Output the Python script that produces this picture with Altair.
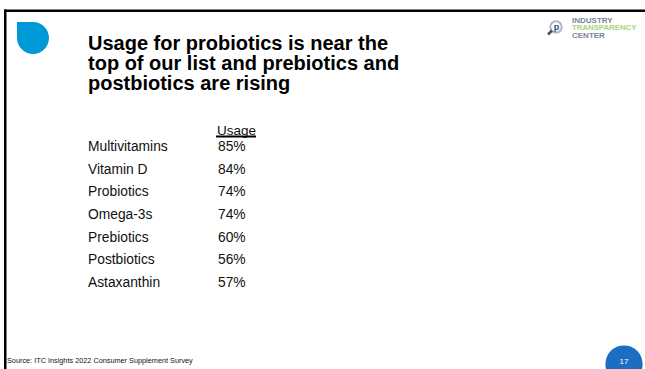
import altair as alt
import pandas as pd

# ---- data ----
items = ["Multivitamins", "Vitamin D", "Probiotics", "Omega-3s", "Prebiotics", "Postbiotics", "Astaxanthin"]
usage = [85, 84, 74, 74, 60, 56, 57]
header = "Usage"
title_lines = ["Usage for probiotics is near the",
               "top of our list and prebiotics and",
               "postbiotics are rising"]
source = "Source: ITC Insights 2022 Consumer Supplement Survey"
page = "17"
logo_lines = ["INDUSTRY", "TRANSPARENCY", "CENTER"]

df = pd.DataFrame({"item": items, "usage": usage})
one = pd.DataFrame({"k": [0]})

FONT = "Liberation Sans"

base = alt.Chart(one)

border_top = base.mark_rect(color="#000000").encode(
    x=alt.value(4), x2=alt.value(645), y=alt.value(9.5), y2=alt.value(12))
border_left = base.mark_rect(color="#000000").encode(
    x=alt.value(4), x2=alt.value(6.5), y=alt.value(9.5), y2=alt.value(369))

drop = base.mark_rect(color="#0099D8", cornerRadiusTopRight=16,
                      cornerRadiusBottomLeft=16, cornerRadiusBottomRight=16).encode(
    x=alt.value(17), x2=alt.value(49), y=alt.value(22), y2=alt.value(54))

title_layers = [
    base.mark_text(text=t, font=FONT, fontSize=20, fontWeight="bold",
                   align="left", baseline="alphabetic", color="#000000").encode(
        x=alt.value(88), y=alt.value(49.5 + 20.3 * i))
    for i, t in enumerate(title_lines)
]

# logo
logo_ring = base.mark_point(shape="circle", size=130, filled=False, stroke="#8e98a4",
                            strokeWidth=2).encode(x=alt.value(556), y=alt.value(27))
logo_handle = base.mark_rule(color="#3d4f66", strokeWidth=2.5).encode(
    x=alt.value(548), x2=alt.value(552), y=alt.value(34.5), y2=alt.value(30.5))
logo_p = base.mark_text(text="p", font=FONT, fontSize=9, fontWeight="bold",
                        color="#2d4f7c").encode(x=alt.value(556.5), y=alt.value(26.5))
logo_t1 = base.mark_text(text=logo_lines[0], font=FONT, fontSize=8, fontWeight="bold",
                         align="left", baseline="middle", color="#7a8593").encode(
    x=alt.value(572), y=alt.value(20.5))
logo_t2 = base.mark_text(text=logo_lines[1], font=FONT, fontSize=7.8, fontWeight="bold",
                         align="left", baseline="middle", color="#a4d47a").encode(
    x=alt.value(572), y=alt.value(28))
logo_t3 = base.mark_text(text=logo_lines[2], font=FONT, fontSize=8, fontWeight="bold",
                         align="left", baseline="middle", color="#7a8593").encode(
    x=alt.value(572), y=alt.value(36))

# table
yscale = alt.Y("item:N", sort=items, axis=None,
               scale=alt.Scale(type="point", range=[147, 283], padding=0))
labels = alt.Chart(df).mark_text(font=FONT, fontSize=13.8, align="left",
                                 baseline="middle", color="#111111").encode(
    x=alt.value(88), y=yscale, text="item:N")
values = alt.Chart(df).transform_calculate(lbl="datum.usage + '%'").mark_text(
    font=FONT, fontSize=13.8, align="left", baseline="middle", color="#111111").encode(
    x=alt.value(218), y=yscale, text="lbl:N")

head = base.mark_text(text=header, font=FONT, fontSize=13.5, align="left",
                      baseline="alphabetic", color="#111111").encode(
    x=alt.value(217), y=alt.value(134.5))
head_ul = base.mark_rect(color="#000000").encode(
    x=alt.value(216), x2=alt.value(256), y=alt.value(135.5), y2=alt.value(137.5))

src = base.mark_text(text=source, font=FONT, fontSize=7.3, align="left",
                     baseline="middle", color="#111111").encode(
    x=alt.value(7), y=alt.value(361))

page_circle = base.mark_point(shape="circle", size=1385, filled=True, opacity=1,
                              color="#1B6EC2").encode(x=alt.value(624), y=alt.value(364))
page_num = base.mark_text(text=page, font=FONT, fontSize=8, align="center",
                          baseline="middle", color="#ffffff").encode(
    x=alt.value(624), y=alt.value(362))

chart = alt.layer(
    border_top, border_left, drop, *title_layers,
    logo_ring, logo_handle, logo_p, logo_t1, logo_t2, logo_t3,
    labels, values, head, head_ul, src, page_circle, page_num
).properties(width=645, height=369, padding=0, autosize="none",
             background="#ffffff").configure_view(stroke=None)

chart.save("out.html", embed_options={"renderer": "svg", "actions": False})
